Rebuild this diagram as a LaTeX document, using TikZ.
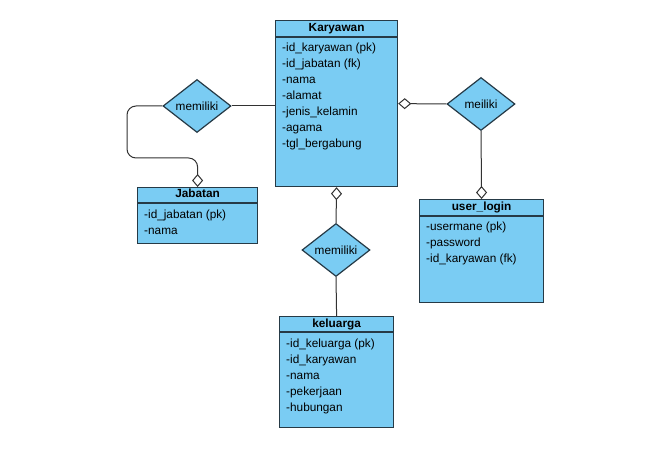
\documentclass[tikz,border=0pt]{standalone}
\usepackage{fontspec}
\setmainfont{Liberation Sans}
\usetikzlibrary{shapes.geometric,arrows.meta}
\definecolor{boxfill}{RGB}{122,204,243}
\definecolor{boxline}{RGB}{38,58,70}
\definecolor{connline}{RGB}{50,50,50}
\tikzset{
  ent/.style={draw=boxline, fill=boxfill, line width=1.2bp, inner sep=0pt, anchor=north west},
  ttl/.style={font=\fontsize{11.8bp}{13bp}\selectfont\bfseries, inner sep=0pt, text height=8.5bp, text depth=2.5bp},
  attr/.style={font=\fontsize{11.8bp}{13bp}\selectfont, inner sep=0pt, anchor=west, text height=8.5bp, text depth=2.5bp},
  rel/.style={diamond, draw=boxline, fill=boxfill, line width=1.2bp, inner sep=0pt,
    minimum width=68bp, minimum height=53bp, font=\fontsize{11.8bp}{13bp}\selectfont},
  conn/.style={draw=connline, line width=1bp},
  odia/.tip={Diamond[open, fill=white, length=13bp, width=11bp, line width=1bp]}
}
\begin{document}
\begin{tikzpicture}[x=1bp,y=-1bp]
\useasboundingbox (0,0) rectangle (647,452);
\fill[white] (0,0) rectangle (647,452);

% Karyawan
\node[ent, minimum width=122bp, minimum height=166bp] (kar) at (275,20) {};
\draw[boxline, line width=1.2bp] (kar.north west) ++(0,17) -- ++(122,0);
\node[ttl] (karT) at ([yshift=-8.5bp]kar.north) {Karyawan};
\node[attr] (k1) at (282,49) {-id\_karyawan (pk)};
\node[attr] (k2) at (282,65) {-id\_jabatan (fk)};
\node[attr] (k3) at (282,81) {-nama};
\node[attr] (k4) at (282,97) {-alamat};
\node[attr] (k5) at (282,113) {-jenis\_kelamin};
\node[attr] (k6) at (282,129) {-agama};
\node[attr] (k7) at (282,145) {-tgl\_bergabung};

% Jabatan
\node[ent, minimum width=120bp, minimum height=56bp] (jab) at (137,187) {};
\draw[boxline, line width=1.2bp] (jab.north west) ++(0,16) -- ++(120,0);
\node[ttl] (jabT) at ([yshift=-8bp]jab.north) {Jabatan};
\node[attr] (j1) at (144,216) {-id\_jabatan (pk)};
\node[attr] (j2) at (144,232) {-nama};

% user_login
\node[ent, minimum width=124bp, minimum height=103bp] (ul) at (419,199) {};
\draw[boxline, line width=1.2bp] (ul.north west) ++(0,17) -- ++(124,0);
\node[ttl] (ulT) at ([yshift=-8.5bp]ul.north) {user\_login};
\node[attr] (u1) at (426,228) {-usermane (pk)};
\node[attr] (u2) at (426,244) {-password};
\node[attr] (u3) at (426,260) {-id\_karyawan (fk)};

% keluarga
\node[ent, minimum width=114bp, minimum height=111bp] (kel) at (279,316) {};
\draw[boxline, line width=1.2bp] (kel.north west) ++(0,16) -- ++(114,0);
\node[ttl] (kelT) at ([yshift=-8bp]kel.north) {keluarga};
\node[attr] (e1) at (286,344) {-id\_keluarga (pk)};
\node[attr] (e2) at (286,360) {-id\_karyawan};
\node[attr] (e3) at (286,376) {-nama};
\node[attr] (e4) at (286,392) {-pekerjaan};
\node[attr] (e5) at (286,408) {-hubungan};

% relations
\node[rel] (m1) at (197,106) {memiliki};
\node[rel] (m2) at (481,104) {meiliki};
\node[rel] (m3) at (336,250) {memiliki};

% connectors
\coordinate (bend) at (127,158);
\draw[conn] (m1.east) -- (m1.east -| kar.west);
\draw[conn, rounded corners=9bp, -odia] (m1.west) -| (bend) -| (jab.north);
\draw[conn, odia-] (kar.east) -- (m2.west);
\draw[conn, -odia] (m2.south) -- (ul.north);
\draw[conn, odia-] (kar.south) -- (m3.north);
\draw[conn] (m3.south) -- (kel.north);
\end{tikzpicture}
\end{document}
